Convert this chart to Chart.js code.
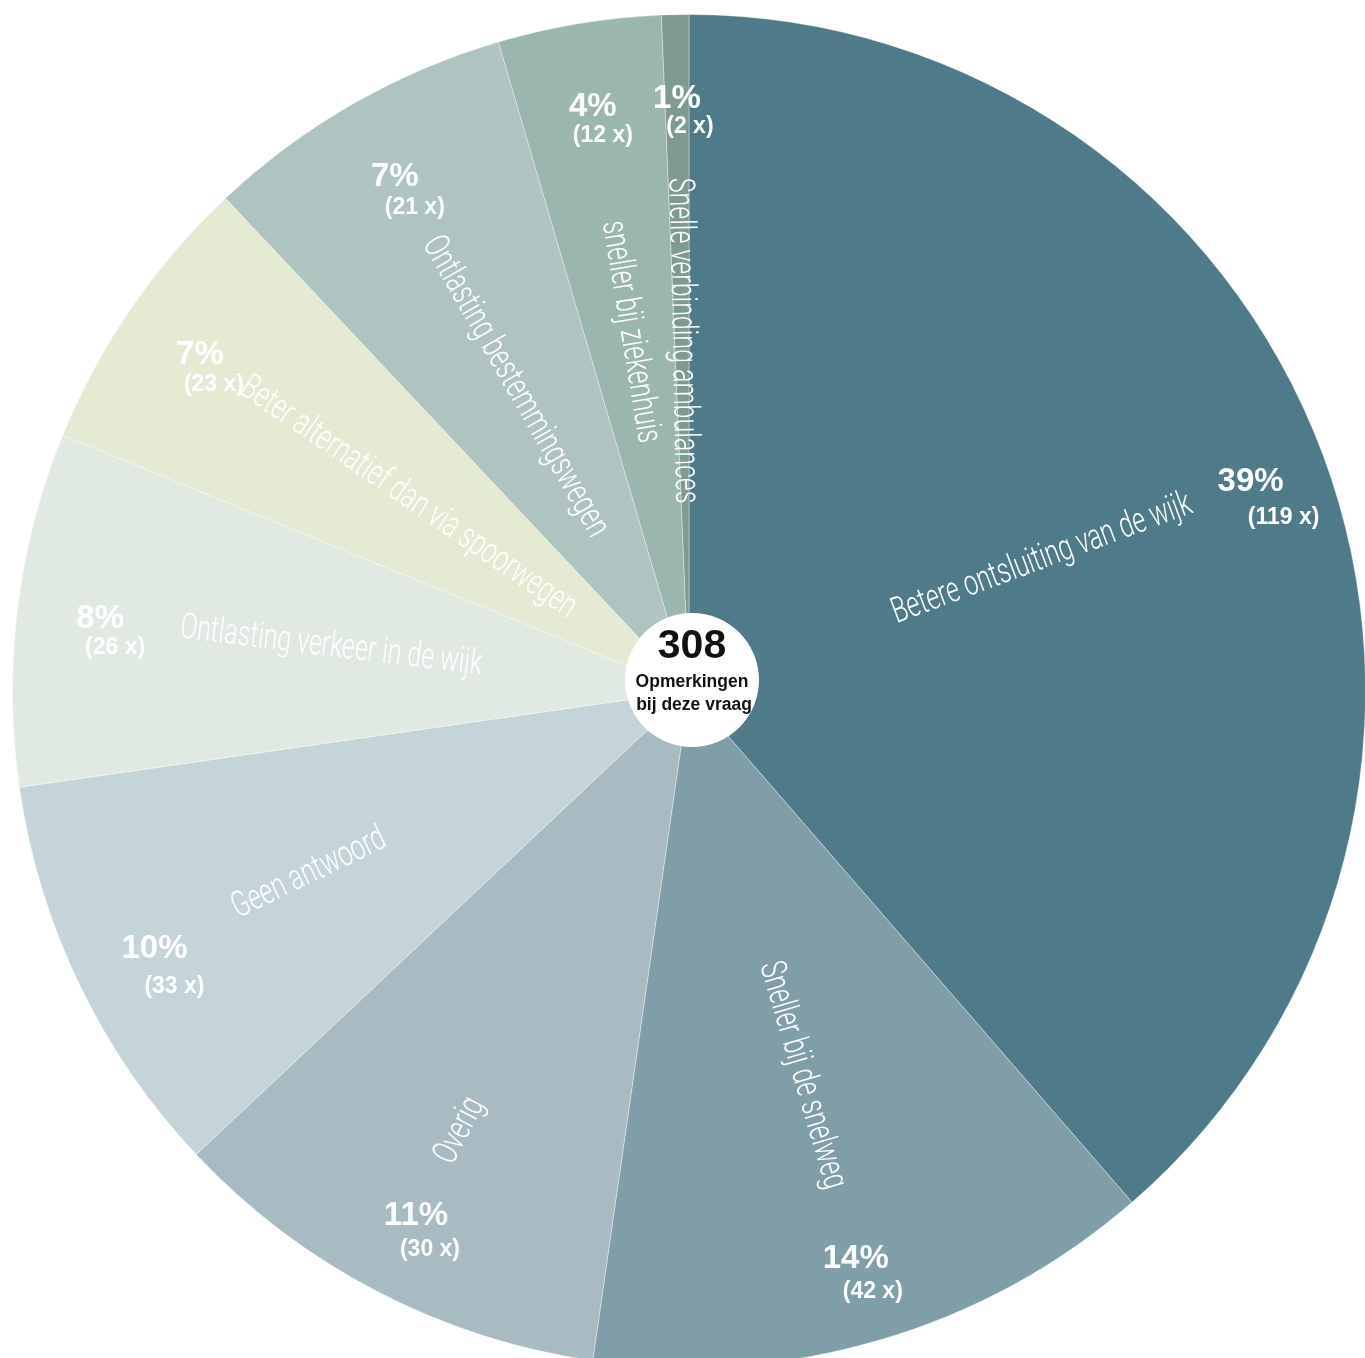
<!DOCTYPE html>
<html><head><meta charset="utf-8">
<script src="https://cdn.jsdelivr.net/npm/chart.js@4"></script>
<style>
html,body{margin:0;padding:0;background:#fff;overflow:hidden;width:1365px;height:1358px;}
#wrap{position:absolute;left:0;top:0;width:1378px;height:1378px;}
</style></head><body>
<div id="wrap"><canvas id="c" width="1378" height="1378" style="width:1378px;height:1378px"></canvas></div>
<script>
const categories = ["Betere ontsluiting van de wijk","Sneller bij de snelweg","Overig","Geen antwoord","Ontlasting verkeer in de wijk","Beter alternatief dan via spoorwegen","Ontlasting bestemmingswegen","sneller bij ziekenhuis","Snelle verbinding ambulances"];
// slice sizes as drawn in the picture
const sliceValues = [119, 42, 33, 30, 26, 21, 23, 12, 2];
// label texts as printed in the picture
const percentLabels = ["39%","14%","11%","10%","8%","7%","7%","4%","1%"];
const countLabels = ["(119 x)","(42 x)","(30 x)","(33 x)","(26 x)","(23 x)","(21 x)","(12 x)","(2 x)"];
const totalLabel = "308";
const centerLines = ["Opmerkingen","bij deze vraag"];

// styling
const sliceColors = ["#4e7a89","#809ea8","#a8bac2","#c5d4d9","#e1e9e3","#e5ead3","#afc4c1","#9bb5af","#7f9a8f"];
const nameRadius = [0.557,0.592,0.733,0.623,0.533,0.504,0.518,0.538,0.518];
const pctRadius = [0.886,0.875,0.875,0.877,0.877,0.877,0.875,0.875,0.876];
const countDx = [33,17,14,20,15,14,20,10,13];
const countDy = [36,33,33,38,29,30,30,29,28];
const NAME_FONT = '300 36px Roboto';
const PCT_FONT = 'bold 33px "Liberation Sans", Arial, sans-serif';
const CNT_FONT = 'bold 23px "Liberation Sans", Arial, sans-serif';

const labelPlugin = {
  id: 'sliceLabels',
  afterDatasetsDraw(chart) {
    const ctx = chart.ctx;
    const arcs = chart.getDatasetMeta(0).data;
    ctx.save();
    ctx.font = NAME_FONT;
    const condense = 304 / ctx.measureText("Ontlasting verkeer in de wijk").width;
    arcs.forEach((arc, i) => {
      const p = arc.getProps(['x','y','startAngle','endAngle','outerRadius'], true);
      const mid = (p.startAngle + p.endAngle) / 2;
      const c = Math.cos(mid), s = Math.sin(mid);
      const rn = p.outerRadius * nameRadius[i];
      let rot = mid;
      if (c < 0) rot = mid + Math.PI;
      ctx.save();
      ctx.translate(p.x + c * rn, p.y + s * rn);
      ctx.rotate(rot);
      ctx.scale(condense, 1);
      ctx.font = NAME_FONT;
      ctx.fillStyle = '#ffffff';
      ctx.textAlign = 'center';
      ctx.textBaseline = 'middle';
      ctx.fillText(categories[i], 0, 0);
      ctx.restore();
      const rp = p.outerRadius * pctRadius[i];
      const px = p.x + c * rp, py = p.y + s * rp;
      ctx.fillStyle = '#ffffff';
      ctx.textAlign = 'center';
      ctx.textBaseline = 'middle';
      ctx.font = PCT_FONT;
      ctx.fillText(percentLabels[i], px, py);
      ctx.font = CNT_FONT;
      ctx.fillText(countLabels[i], px + countDx[i], py + countDy[i]);
    });
    ctx.restore();
  },
  afterDraw(chart) {
    const ctx = chart.ctx;
    const a = chart.getDatasetMeta(0).data[0];
    const cx = a.x + 3, cy = a.y - 11;
    ctx.save();
    ctx.beginPath();
    ctx.arc(cx, cy, 67, 0, Math.PI * 2);
    ctx.fillStyle = '#ffffff';
    ctx.fill();
    ctx.fillStyle = '#111111';
    ctx.textAlign = 'center';
    ctx.textBaseline = 'alphabetic';
    ctx.font = 'bold 41px "Liberation Sans", Arial, sans-serif';
    ctx.fillText(totalLabel, cx, cy - 22);
    ctx.font = 'bold 17.5px "Liberation Sans", Arial, sans-serif';
    ctx.fillText(centerLines[0], cx, cy + 7);
    ctx.fillText(centerLines[1], cx + 2, cy + 30);
    ctx.restore();
  }
};

new Chart(document.getElementById('c'), {
  type: 'pie',
  data: {
    labels: categories,
    datasets: [{
      data: sliceValues,
      backgroundColor: sliceColors,
      borderColor: 'rgba(255,255,255,0.35)',
      borderWidth: 1
    }]
  },
  options: {
    responsive: false,
    animation: false,
    rotation: 0,
    layout: { padding: { top: 14, left: 12, right: 12, bottom: 10 } },
    plugins: { legend: { display: false }, tooltip: { enabled: false } },
    events: []
  },
  plugins: [labelPlugin]
});
</script>
</body></html>
